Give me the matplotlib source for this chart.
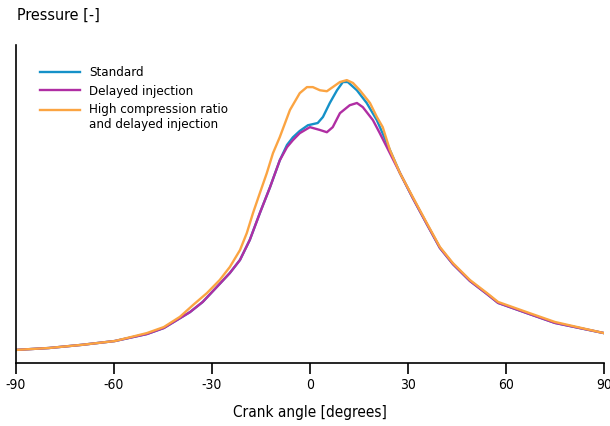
import matplotlib
matplotlib.use("Agg")
import matplotlib.pyplot as plt
import numpy as np

# Crank angle [deg] and pressure [arbitrary units]
x_high = [-90, -79.9, -69.8, -59.7, -49.9, -44.7, -39.8, -35.8, -31.5, -27.6, -24.5, -21.4,
          -19.3, -17.4, -15.3, -13.2, -11.3, -9.2, -6.1, -3.1, -0.9, 0.9, 3.1, 5.2, 7.0, 9.2,
          11.3, 13.2, 15.3, 18.4, 20.5, 22.3, 24.5, 27.6, 31.5, 35.8, 39.8, 43.8, 49.0, 54.2,
          57.6, 67.2, 75.0, 90.0]
y_high = [4.1, 4.7, 5.7, 6.9, 9.4, 11.3, 14.5, 18.2, 22.0, 26.1, 30.2, 35.5,
          40.9, 47.2, 53.5, 59.7, 66.0, 71.1, 79.6, 84.9, 86.8, 86.8, 85.8, 85.5, 86.8, 88.4,
          89.0, 88.1, 85.8, 81.8, 77.4, 74.2, 67.0, 59.7, 52.2, 44.0, 36.5, 31.4, 26.1, 22.0,
          19.2, 15.7, 12.9, 9.4]

x_delayed = [-90, -79.9, -69.8, -59.7, -49.9, -44.7, -36.7, -32.8, -28.5, -24.5, -21.4, -18.4,
             -15.3, -12.2, -9.2, -7.0, -5.2, -3.1, 0.0, 3.1, 5.2, 7.0, 9.2, 12.2, 14.4, 16.2,
             19.3, 21.4, 24.5, 27.6, 31.5, 35.8, 39.8, 43.8, 49.0, 54.2, 57.6, 67.2, 75.0, 90.0]
y_delayed = [4.1, 4.7, 5.7, 6.9, 9.1, 11.0, 16.0, 19.2, 23.9, 28.3, 32.4, 38.7,
             47.2, 55.3, 63.8, 67.9, 70.1, 72.3, 74.2, 73.3, 72.6, 74.2, 78.6, 81.1, 81.8, 80.5,
             76.4, 72.3, 66.0, 59.7, 51.9, 43.7, 36.2, 31.1, 25.8, 21.7, 18.9, 15.4, 12.6, 9.4]

x_standard = [-90, -79.9, -69.8, -59.7, -49.9, -44.7, -36.7, -32.8, -28.5, -24.5, -21.4, -18.4,
              -15.3, -12.2, -9.2, -7.0, -5.2, -3.1, -0.6, 2.4, 4.0, 6.1, 8.3, 10.1, 11.6, 14.4,
              17.4, 20.5, 24.5, 27.6, 31.5, 35.8, 39.8, 43.8, 49.0, 54.2, 57.6, 67.2, 75.0, 90.0]
y_standard = [4.1, 4.7, 5.7, 6.9, 9.1, 11.0, 16.0, 19.2, 23.9, 28.3, 32.4, 38.7,
              47.2, 55.3, 63.8, 68.6, 71.0, 73.0, 74.8, 75.5, 77.4, 81.8, 85.8, 88.4, 88.4, 85.8,
              81.8, 76.4, 67.0, 59.7, 51.9, 43.7, 36.2, 31.1, 25.8, 21.7, 18.9, 15.4, 12.6, 9.4]

xticks = [-90, -60, -30, 0, 30, 60, 90]
labels = ["Standard", "Delayed injection", "High compression ratio\nand delayed injection"]
colors = ["#1591c8", "#b02ea3", "#fba442"]

plt.rcParams['font.family'] = ['DejaVu Sans']
plt.rcParams['font.stretch'] = 'condensed'

fig = plt.figure(figsize=(6.10, 4.26), dpi=100)
ax = fig.add_axes([0.026, 0.148, 0.964, 0.746])

ax.plot(x_standard, y_standard, color=colors[0], lw=1.7, label=labels[0])
ax.plot(x_delayed, y_delayed, color=colors[1], lw=1.7, label=labels[1])
ax.plot(x_high, y_high, color=colors[2], lw=1.7, label=labels[2])

ax.set_xlim(-90, 90)
ax.set_ylim(0, 100)
ax.set_xticks(xticks)
ax.set_xticklabels([str(t) for t in xticks])
ax.set_yticks([])
for s in ["top", "right"]:
    ax.spines[s].set_visible(False)
ax.spines["left"].set_linewidth(1.2)
ax.spines["bottom"].set_linewidth(1.2)
ax.tick_params(axis='x', direction='out', length=8, width=1.2, labelsize=10, pad=3)

ax.set_xlabel("Crank angle [degrees]", fontsize=11, labelpad=9)
fig.text(17 / 610, 1 - 15 / 426, "Pressure [-]", fontsize=11.5, va='center', ha='left')

leg = ax.legend(loc='upper left', bbox_to_anchor=(0.041, 0.933), frameon=False, fontsize=9.5,
                handlelength=3.0, handletextpad=0.75, labelspacing=0.4, borderpad=0,
                borderaxespad=0)
ln = leg.get_lines()[2]
ln.set_ydata(np.asarray(ln.get_ydata()) + 5.5)

fig.savefig("out.png", dpi=100)
